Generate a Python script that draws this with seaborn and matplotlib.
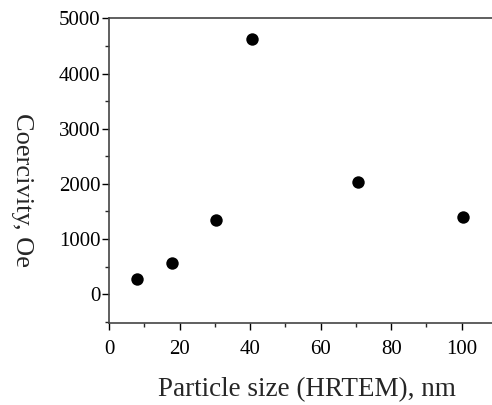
import matplotlib
matplotlib.use("Agg")
import matplotlib.pyplot as plt
import seaborn as sns
import pandas as pd
from matplotlib.ticker import MultipleLocator

# Coercivity vs particle size
size_nm = [8, 18, 30.3, 40.6, 70.5, 100.3]
coercivity = [280, 575, 1350, 4620, 2030, 1405]

data = pd.DataFrame({"size": size_nm, "hc": coercivity})

sns.set_style("ticks")
plt.rcParams["font.family"] = ["Liberation Serif", "DejaVu Serif"]

fig = plt.figure(figsize=(4.92, 4.05), dpi=100)
ax = fig.add_axes([0.2215, 0.2025, 0.7785, 0.7523])

sns.scatterplot(data=data, x="size", y="hc", color="black", s=80,
                edgecolor="black", linewidth=0, ax=ax)

ax.set_xlim(0, 108.6)
ax.set_ylim(-520, 5000)
ax.xaxis.set_major_locator(MultipleLocator(20))
ax.xaxis.set_minor_locator(MultipleLocator(10))
ax.yaxis.set_major_locator(MultipleLocator(1000))
ax.yaxis.set_minor_locator(MultipleLocator(500))
ax.tick_params(which="major", direction="out", length=5, width=1, labelsize=15, colors="black")
ax.tick_params(which="minor", direction="out", length=3, width=1)
ax.tick_params(axis="x", pad=7)
ax.tick_params(axis="y", pad=1)

ax.spines["right"].set_visible(False)
ax.spines["top"].set_visible(True)
for sp in ["left", "bottom", "top"]:
    ax.spines[sp].set_color("#444444")
    ax.spines[sp].set_linewidth(1.2)

ax.set_xlabel("Particle size (HRTEM), nm", fontsize=19.5, va="center", ha="center")
ax.xaxis.set_label_coords(0.518, -0.22)
ax.set_ylabel("Coercivity, Oe", fontsize=19, rotation=270, va="center", ha="center")
ax.yaxis.set_label_coords(-0.227, 0.435)

fig.savefig("out.png", dpi=100)
